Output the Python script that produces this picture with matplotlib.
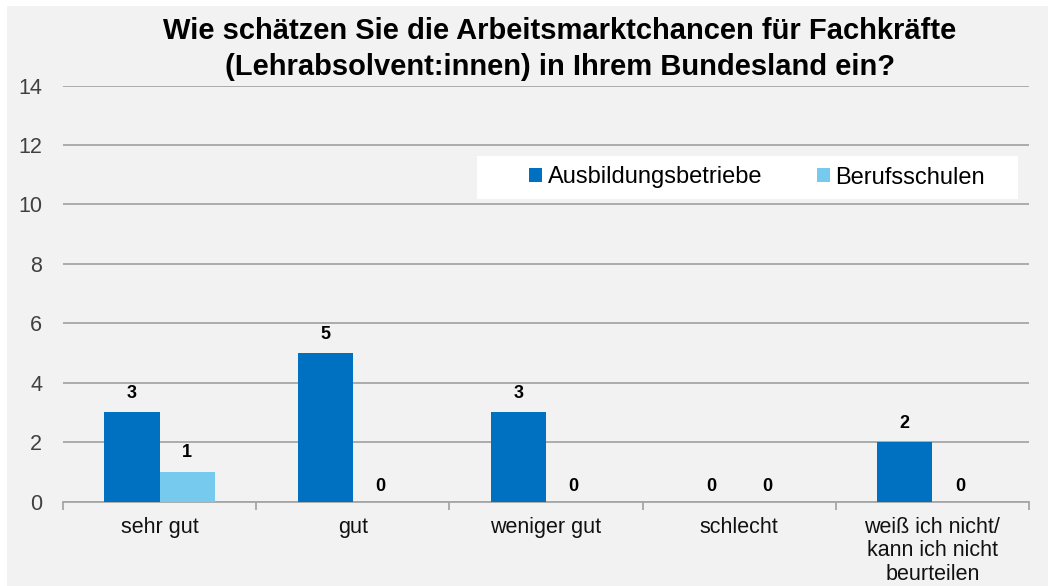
import matplotlib
matplotlib.use("Agg")
import matplotlib.pyplot as plt
from matplotlib.patches import Rectangle, Patch
import numpy as np

plt.rcParams['font.family'] = ['Liberation Sans', 'DejaVu Sans']

categories = ["sehr gut", "gut", "weniger gut", "schlecht",
              "weiß ich nicht/\nkann ich nicht\nbeurteilen"]
series_names = ["Ausbildungsbetriebe", "Berufsschulen"]
ausbildungsbetriebe = [3, 5, 3, 0, 2]
berufsschulen = [1, 0, 0, 0, 0]
yticks = [0, 2, 4, 6, 8, 10, 12, 14]
title = "Wie schätzen Sie die Arbeitsmarktchancen für Fachkräfte\n(Lehrabsolvent:innen) in Ihrem Bundesland ein?"

colors = ["#0070C0", "#75CAEE"]
bg = "#F2F2F2"
grid_c = "#A6A6A6"

W, H = 1052, 586
fig = plt.figure(figsize=(W / 100, H / 100), dpi=100)
fig.patch.set_facecolor("white")
fig.patches.append(Rectangle((7 / W, 0), (1048 - 7) / W, (H - 6) / H,
                             transform=fig.transFigure, facecolor=bg,
                             edgecolor="none", zorder=-10))

ax = fig.add_axes([63 / W, 1 - 501.5 / H, (1029 - 63) / W, (501.5 - 85.5) / H])
ax.set_zorder(1)
ax.set_facecolor(bg)

x = np.arange(len(categories))
bw = 0.286
series = [ausbildungsbetriebe, berufsschulen]
offsets = [-bw / 2, bw / 2]
for vals, off, c in zip(series, offsets, colors):
    bars = ax.bar(x + off, vals, width=bw, color=c, zorder=3)
    for xi, v in zip(x + off, vals):
        ax.annotate(str(v), (xi, v), xytext=(0, 5 if v == 0 else 7.5),
                    textcoords="offset points", ha="center", va="bottom",
                    fontsize=13, fontweight="bold", color="black")

ax.set_xlim(-0.5, len(categories) - 0.5)
ax.set_ylim(0, 14)
ax.set_yticks(yticks)
ax.yaxis.grid(True, color=grid_c, linewidth=1.3, zorder=0)
ax.set_axisbelow(True)
for s in ["left", "right", "top"]:
    ax.spines[s].set_visible(False)
ax.spines["bottom"].set_color(grid_c)
ax.spines["bottom"].set_linewidth(1.3)

ax.set_xticks(x)
ax.set_xticklabels(categories, fontsize=15.5, color="#111111", linespacing=1.15)
ax.set_xticks(np.arange(-0.5, len(categories), 1.0), minor=True)
ax.tick_params(axis="x", which="major", length=0, pad=11)
ax.tick_params(axis="x", which="minor", length=6, width=1.3, color=grid_c)
ax.tick_params(axis="y", length=0, pad=15, labelsize=15.5, labelcolor="#404040")

# legend box
lx0 = (477 - 63) / 966
lx1 = (1018 - 63) / 966
ly0 = (501.5 - 199) / 416
ly1 = (501.5 - 156) / 416
ax.add_patch(Rectangle((lx0, ly0), lx1 - lx0, ly1 - ly0, transform=ax.transAxes,
                       facecolor="white", edgecolor="none", zorder=5))
handles = [Patch(facecolor=c, edgecolor="none") for c in colors]
leg = ax.legend(handles, series_names, loc="center",
                bbox_to_anchor=((757 - 63) / 966, (501.5 - 177.5) / 416),
                ncol=2, frameon=False, fontsize=17, handlelength=0.55,
                handleheight=0.55, handletextpad=0.25, columnspacing=2.3,
                borderpad=0)
leg.set_zorder(6)

fig.text(560 / W, 1 - 49 / H, title, ha="center", va="center", fontsize=21,
         fontweight="bold", color="black", linespacing=1.4)

fig.savefig("out.png", dpi=100, facecolor=fig.get_facecolor())
